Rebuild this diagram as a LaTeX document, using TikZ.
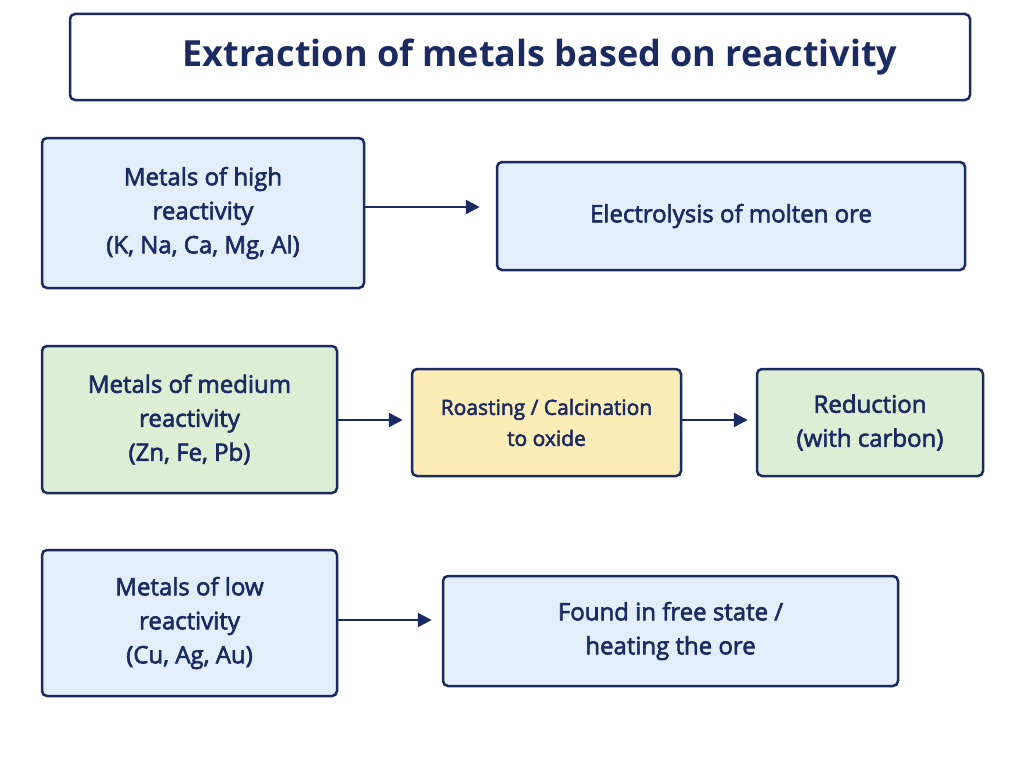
\documentclass[tikz,border=0pt]{standalone}
\usepackage{fontspec}
\setmainfont{Open Sans}
\newfontfamily\medfont{Open Sans}[FakeBold=2.5]
\usetikzlibrary{arrows.meta}
\definecolor{edge_navy}{RGB}{28,42,98}
\definecolor{node_blue}{RGB}{226,239,251}
\definecolor{node_green}{RGB}{220,238,212}
\definecolor{node_yellow}{RGB}{252,236,182}
\begin{document}
\begin{tikzpicture}[x=1pt,y=-1pt,line width=2.5pt]
    \tikzstyle{box}=[draw=edge_navy, rounded corners=5pt, text=edge_navy, align=center, font=\medfont\fontsize{24}{34}\selectfont, inner sep=0pt]
    \tikzstyle{bl}=[style=box,fill=node_blue]
    \tikzstyle{gr}=[style=box,fill=node_green]
    \tikzstyle{ye}=[style=box,fill=node_yellow,font=\medfont\fontsize{21}{31}\selectfont]
    \tikzstyle{arr}=[-{Triangle[length=14pt,width=14pt]},draw=edge_navy]
    \useasboundingbox[fill=white] (0,0) rectangle (1024,768);
    \node[box,fill=white,minimum width=900pt,minimum height=86pt,font=\bfseries\fontsize{36}{40}\selectfont] (title) at (520,57) {\hspace{40pt}Extraction of metals based on reactivity};
    \node[bl,minimum width=322pt,minimum height=150pt] (high) at (203,213) {Metals of high\\reactivity\\(K, Na, Ca, Mg, Al)};
    \node[bl,minimum width=468pt,minimum height=108pt] (elec) at (731,216) {Electrolysis of molten ore};
    \node[gr,minimum width=295pt,minimum height=147pt] (med) at (189.5,419.5) {Metals of medium\\reactivity\\(Zn, Fe, Pb)};
    \node[ye,minimum width=269pt,minimum height=107pt] (roast) at (546.5,422.5) {Roasting / Calcination\\to oxide};
    \node[gr,minimum width=226pt,minimum height=107pt] (red) at (870,422.5) {Reduction\\(with carbon)};
    \node[bl,minimum width=295pt,minimum height=146pt] (low) at (189.5,623) {Metals of low\\reactivity\\(Cu, Ag, Au)};
    \node[bl,minimum width=455pt,minimum height=110pt] (free) at (670.5,631) {Found in free state /\\heating the ore};

    \path
     (high.east |- 0,207) edge[arr,shorten >=16pt] (elec.west |- 0,207)
     (med.east |- 0,420) edge[arr,shorten >=8pt] (roast.west |- 0,420)
     (roast.east |- 0,420) edge[arr,shorten >=8pt] (red.west |- 0,420)
     (low.east |- 0,620) edge[arr,shorten >=10pt] (free.west |- 0,620);
\end{tikzpicture}
\end{document}
